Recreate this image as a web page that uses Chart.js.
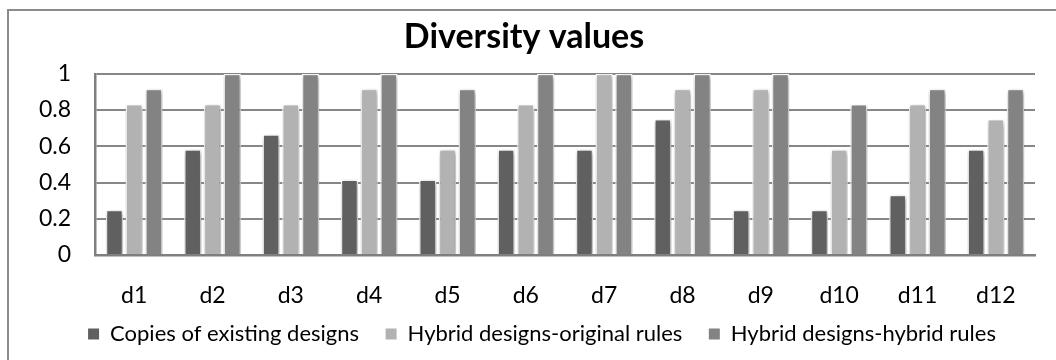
<!DOCTYPE html>
<html>
<head>
<meta charset="utf-8">
<script src="https://cdn.jsdelivr.net/npm/chart.js@4"></script>
<style>
  html, body { margin: 0; padding: 0; background: #fff; overflow: hidden; }
  .wrap { position: relative; width: 1056px; height: 360px; }
  .frame { position: absolute; left: 7px; top: 9px; width: 1100px; height: 400px; border: 2px solid #8c8c8c; box-sizing: border-box; }
  canvas { position: absolute; left: 0; top: 0; }
</style>
</head>
<body>
<div class="wrap">
  <div class="frame"></div>
  <canvas id="myChart" width="1056" height="360"></canvas>
</div>
<script>
// diversity values per design
let designs = ['d1','d2','d3','d4','d5','d6','d7','d8','d9','d10','d11','d12'];
let copies = [0.25, 0.583, 0.667, 0.417, 0.417, 0.583, 0.583, 0.75, 0.25, 0.25, 0.333, 0.583];
let hybridOriginal = [0.833, 0.833, 0.833, 0.917, 0.583, 0.833, 1, 0.917, 0.917, 0.583, 0.833, 0.75];
let hybridHybrid = [0.917, 1, 1, 1, 0.917, 1, 1, 1, 1, 0.833, 0.917, 0.917];
let seriesNames = ['Copies of existing designs', 'Hybrid designs-original rules', 'Hybrid designs-hybrid rules'];

const fontName = 'Lato, "Open Sans", sans-serif';

// soft excel-ish shadow round the bars
const barShadow = {
  id: 'barShadow',
  beforeDatasetsDraw(chart) {
    const ctx = chart.ctx;
    ctx.save();
    ctx.shadowColor = 'rgba(0,0,0,0.45)';
    ctx.shadowBlur = 5;
    ctx.shadowOffsetX = 1;
    ctx.shadowOffsetY = 2;
  },
  afterDatasetsDraw(chart) {
    chart.ctx.restore();
  }
};

// legend sits a bit right of the title in the original
const legendShift = {
  id: 'legendShift',
  afterLayout(chart) {
    chart.legend.left += 18;
    chart.legend.right += 18;
  }
};

const defaultLabels = Chart.defaults.plugins.legend.labels.generateLabels;

const ctx = document.getElementById('myChart');
new Chart(ctx, {
  type: 'bar',
  data: {
    labels: designs,
    datasets: [
      { label: seriesNames[0], data: copies, backgroundColor: '#606060' },
      { label: seriesNames[1], data: hybridOriginal, backgroundColor: '#b2b2b2' },
      { label: seriesNames[2], data: hybridHybrid, backgroundColor: '#838383' }
    ]
  },
  options: {
    responsive: false,
    animation: false,
    layout: { padding: { left: 0, right: 8, top: 0, bottom: 5 } },
    datasets: {
      bar: {
        categoryPercentage: 0.755, barPercentage: 0.88,
        borderWidth: { top: 1.5, left: 1.5, right: 1.5, bottom: 0 },
        borderColor: '#ffffff'
      }
    },
    scales: {
      x: {
        grid: { display: false, drawTicks: false },
        border: { display: true, color: '#7f7f7f', width: 2.5 },
        ticks: { color: '#000', padding: 27, font: { family: fontName, size: 23 } },
        afterFit(scale) { scale.height = 58; }
      },
      y: {
        min: 0,
        max: 1,
        ticks: {
          stepSize: 0.2, color: '#000', padding: 24,
          font: { family: fontName, size: 23 },
          callback: v => String(+v.toFixed(1))
        },
        grid: { color: '#878787', lineWidth: 2, drawTicks: false },
        border: { display: true, color: '#7f7f7f', width: 2.5 },
        afterFit(scale) { scale.width = 95; }
      },
      y2: {
        position: 'right',
        display: true,
        grid: { display: false, drawTicks: false },
        border: { display: false },
        ticks: { display: false },
        afterFit(scale) { scale.width = 13; }
      }
    },
    plugins: {
      title: {
        display: true,
        text: 'Diversity values',
        color: '#000',
        font: { family: fontName, size: 34, weight: 'bold' },
        padding: { top: 17, bottom: 16 }
      },
      legend: {
        position: 'bottom',
        labels: {
          boxWidth: 11,
          boxHeight: 11,
          padding: 10,
          color: '#000',
          font: { family: fontName, size: 22 },
          generateLabels(chart) {
            const items = defaultLabels(chart);
            items.forEach((it, i) => {
              it.lineWidth = 0;
              if (i < items.length - 1) it.text = it.text + '\u2003';
            });
            return items;
          }
        }
      },
      tooltip: { enabled: false }
    }
  },
  plugins: [barShadow, legendShift]
});
</script>
</body>
</html>
